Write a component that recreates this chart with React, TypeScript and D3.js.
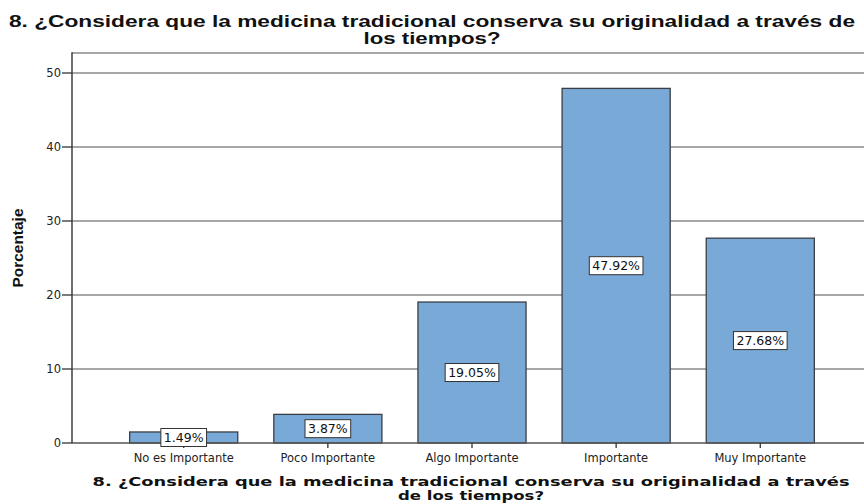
import React, { useEffect, useRef } from "react";
import * as d3 from "d3";

const categories = [
  "No es Importante",
  "Poco Importante",
  "Algo Importante",
  "Importante",
  "Muy Importante",
];
const percentages = [1.49, 3.87, 19.05, 47.92, 27.68];
const yTicks = [0, 10, 20, 30, 40, 50];
const titleLines = [
  "8. ¿Considera que la medicina tradicional conserva su originalidad a través de",
  "los tiempos?",
];
const xTitleLines = [
  "8. ¿Considera que la medicina tradicional conserva su originalidad a través",
  "de los tiempos?",
];
const yTitle = "Porcentaje";

export default function App() {
  const svgRef = useRef<SVGSVGElement | null>(null);

  useEffect(() => {
    const svg = d3.select(svgRef.current);
    svg.selectAll("*").remove();

    const W = 864;
    const H = 504;
    const left = 72;
    const top = 53;
    const bottom = 443;

    const x = d3
      .scaleBand()
      .domain(categories)
      .range([left, 872])
      .paddingInner(0.25)
      .paddingOuter(0.4);
    const y = d3.scaleLinear().domain([0, 50]).range([bottom, 73]);

    svg.append("rect").attr("width", W).attr("height", H).attr("fill", "#fff");

    // title (the original is stretched a bit horizontally)
    const titleLen = [846, 137];
    svg
      .selectAll("text.title")
      .data(titleLines)
      .join("text")
      .attr("class", "title")
      .attr("x", 432)
      .attr("y", (d, i) => 27 + i * 16.5)
      .attr("text-anchor", "middle")
      .attr("font-family", "'Liberation Sans', Arial, sans-serif")
      .attr("font-weight", "bold")
      .attr("font-size", 16)
      .attr("fill", "#111")
      .attr("textLength", (d, i) => titleLen[i])
      .attr("lengthAdjust", "spacingAndGlyphs")
      .text((d) => d);

    // gridlines + top frame
    const grid = svg.append("g");
    grid
      .selectAll("line")
      .data(yTicks.filter((t) => t > 0))
      .join("line")
      .attr("x1", left)
      .attr("x2", W)
      .attr("y1", (d) => y(d))
      .attr("y2", (d) => y(d))
      .attr("stroke", "#8a8a8a")
      .attr("stroke-width", 1.6);
    grid
      .append("line")
      .attr("x1", left)
      .attr("x2", W)
      .attr("y1", top)
      .attr("y2", top)
      .attr("stroke", "#8a8a8a")
      .attr("stroke-width", 1.6);

    // bars
    svg
      .append("g")
      .selectAll("rect")
      .data(percentages)
      .join("rect")
      .attr("x", (d, i) => x(categories[i])!)
      .attr("y", (d) => y(d))
      .attr("width", x.bandwidth())
      .attr("height", (d) => bottom - y(d))
      .attr("fill", "#79a9d7")
      .attr("stroke", "#3b3f45")
      .attr("stroke-width", 1.3);

    // axes
    svg
      .append("line")
      .attr("x1", left)
      .attr("x2", W)
      .attr("y1", bottom)
      .attr("y2", bottom)
      .attr("stroke", "#555")
      .attr("stroke-width", 1.6);
    svg
      .append("line")
      .attr("x1", left)
      .attr("x2", left)
      .attr("y1", top - 0.8)
      .attr("y2", bottom)
      .attr("stroke", "#333")
      .attr("stroke-width", 1.4);

    // y ticks
    const yt = svg.append("g").selectAll("g").data(yTicks).join("g");
    yt.append("line")
      .attr("x1", 62)
      .attr("x2", left)
      .attr("y1", (d) => y(d))
      .attr("y2", (d) => y(d))
      .attr("stroke", "#333")
      .attr("stroke-width", 1.3);
    yt.append("text")
      .attr("x", 61)
      .attr("y", (d) => y(d) + 4)
      .attr("text-anchor", "end")
      .attr("font-family", "DejaVu Sans, sans-serif")
      .attr("font-size", 11.5)
      .attr("fill", "#222")
      .text((d) => d);

    // x ticks
    const xt = svg.append("g").selectAll("g").data(categories).join("g");
    xt.append("line")
      .attr("x1", (d) => x(d)! + x.bandwidth() / 2)
      .attr("x2", (d) => x(d)! + x.bandwidth() / 2)
      .attr("y1", bottom)
      .attr("y2", bottom + 5)
      .attr("stroke", "#333")
      .attr("stroke-width", 1.3);
    xt.append("text")
      .attr("x", (d) => x(d)! + x.bandwidth() / 2)
      .attr("y", 462)
      .attr("text-anchor", "middle")
      .attr("font-family", "DejaVu Sans, sans-serif")
      .attr("font-size", 11.5)
      .attr("fill", "#222")
      .text((d) => d);

    // value labels
    const lab = svg.append("g").selectAll("g").data(percentages).join("g");
    lab.each(function (d, i) {
      const g = d3.select(this);
      const cx = x(categories[i])! + x.bandwidth() / 2;
      const cy = (y(d) + bottom) / 2;
      const rect = g.append("rect");
      const t = g
        .append("text")
        .attr("x", cx)
        .attr("y", cy + 4.5)
        .attr("text-anchor", "middle")
        .attr("font-family", "DejaVu Sans, sans-serif")
        .attr("font-size", 12.5)
        .attr("fill", "#111")
        .text(d.toFixed(2) + "%");
      const w = (t.node() as SVGTextElement).getComputedTextLength();
      rect
        .attr("x", cx - w / 2 - 3)
        .attr("y", cy - 9)
        .attr("width", w + 6)
        .attr("height", 18)
        .attr("fill", "#fff")
        .attr("stroke", "#333")
        .attr("stroke-width", 1);
    });

    // y axis title
    svg
      .append("text")
      .attr("transform", "translate(22.5,248) rotate(-90)")
      .attr("text-anchor", "middle")
      .attr("font-family", "'Liberation Sans', Arial, sans-serif")
      .attr("font-weight", "bold")
      .attr("font-size", 14)
      .attr("fill", "#111")
      .attr("textLength", 79)
      .attr("lengthAdjust", "spacingAndGlyphs")
      .text(yTitle);

    // x axis title
    const xTitleLen = [757, 146];
    svg
      .selectAll("text.xtitle")
      .data(xTitleLines)
      .join("text")
      .attr("class", "xtitle")
      .attr("x", 471)
      .attr("y", (d, i) => 486 + i * 13.5)
      .attr("text-anchor", "middle")
      .attr("font-family", "DejaVu Sans, sans-serif")
      .attr("font-weight", "bold")
      .attr("font-size", 12.5)
      .attr("fill", "#111")
      .attr("textLength", (d, i) => xTitleLen[i])
      .attr("lengthAdjust", "spacingAndGlyphs")
      .text((d) => d);
  }, []);

  return (
    <svg
      ref={svgRef}
      width={864}
      height={504}
      style={{ position: "absolute", left: 0, top: 0 }}
    />
  );
}
